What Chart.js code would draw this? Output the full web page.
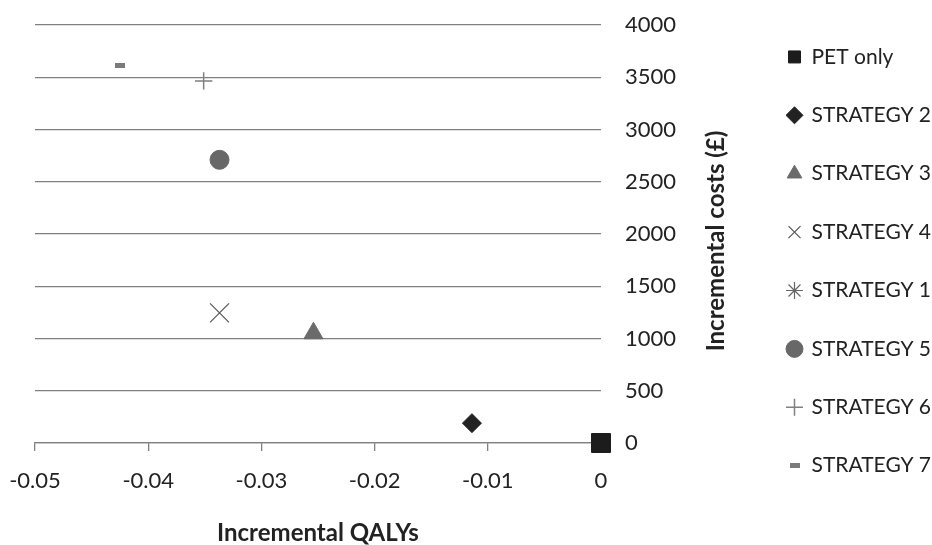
<!DOCTYPE html>
<html>
<head>
<meta charset="utf-8">
<script src="https://cdn.jsdelivr.net/npm/chart.js@4.4.1/dist/chart.umd.min.js"></script>
<style>
  html, body { margin: 0; padding: 0; background: #ffffff; }
  #wrap { width: 932px; height: 545px; }
</style>
</head>
<body>
<div id="wrap"><canvas id="c" width="932" height="545"></canvas></div>
<script>
// ---- data ----
const seriesNames = ['PET only', 'STRATEGY 2', 'STRATEGY 3', 'STRATEGY 4', 'STRATEGY 1', 'STRATEGY 5', 'STRATEGY 6', 'STRATEGY 7'];
const qalys = [[0], [-0.0114], [-0.0254], [-0.0337], [], [-0.0337], [-0.0351], [-0.0425]];
const costs = [[0], [190], [1050], [1245], [], [2710], [3465], [3610]];
const xTicks = [-0.05, -0.04, -0.03, -0.02, -0.01, 0];
const xTickLabels = ['-0.05', '-0.04', '-0.03', '-0.02', '-0.01', '0'];
const yTicks = [0, 500, 1000, 1500, 2000, 2500, 3000, 3500, 4000];
const yTickLabels = ['0', '500', '1000', '1500', '2000', '2500', '3000', '3500', '4000'];
const xTitle = 'Incremental QALYs';
const yTitle = 'Incremental costs (£)';

// small dash marker for STRATEGY 7
const dash = document.createElement('canvas');
dash.width = 10; dash.height = 5;
(function () { const g = dash.getContext('2d'); g.fillStyle = '#7a7a7a'; g.fillRect(0, 0, 10, 5); })();

const styles = [
  { pointStyle: 'rect', radius: 13.4, bg: '#1c1c1c', bc: '#1c1c1c', bw: 1 },
  { pointStyle: 'rectRot', radius: 9.5, bg: '#222222', bc: '#222222', bw: 1 },
  { pointStyle: 'triangle', radius: 11, bg: '#6b6b6b', bc: '#6b6b6b', bw: 1 },
  { pointStyle: 'crossRot', radius: 13.4, bg: '#555555', bc: '#555555', bw: 1.2 },
  { pointStyle: 'star', radius: 9, bg: '#666666', bc: '#666666', bw: 1.2 },
  { pointStyle: 'circle', radius: 9.5, bg: '#686868', bc: '#686868', bw: 1 },
  { pointStyle: 'cross', radius: 8.7, bg: '#808080', bc: '#808080', bw: 1.5 },
  { pointStyle: dash, radius: 6, bg: '#7a7a7a', bc: '#7a7a7a', bw: 1 }
];

const datasets = seriesNames.map((name, i) => ({
  label: name,
  data: qalys[i].map((x, j) => ({ x: x, y: costs[i][j] })),
  pointStyle: styles[i].pointStyle,
  pointRadius: styles[i].radius,
  pointHoverRadius: styles[i].radius,
  backgroundColor: styles[i].bg,
  borderColor: styles[i].bc,
  borderWidth: styles[i].bw,
  clip: false
}));

const FONT = 'Lato';
const GRID = '#808080';
const TEXT = '#222222';

function noScalePadding(scale) {
  scale.paddingTop = 0; scale.paddingBottom = 0;
  scale.paddingLeft = 0; scale.paddingRight = 0;
}

const yTitlePlugin = {
  id: 'yTitlePlugin',
  afterDraw(chart) {
    const ca = chart.chartArea;
    const ctx = chart.ctx;
    ctx.save();
    ctx.font = 'bold 24px ' + FONT;
    ctx.fillStyle = TEXT;
    ctx.textAlign = 'center';
    ctx.textBaseline = 'middle';
    ctx.translate(ca.right + 115, (ca.top + ca.bottom) / 2 + 7);
    ctx.rotate(-Math.PI / 2);
    ctx.fillText(chart.options.scales.y.title.text, 0, 0);
    ctx.restore();
  }
};

new Chart(document.getElementById('c'), {
  type: 'scatter',
  data: { datasets: datasets },
  plugins: [yTitlePlugin],
  options: {
    responsive: false,
    animation: false,
    devicePixelRatio: 1,
    layout: { autoPadding: false, padding: { left: 35, top: 25, right: 0, bottom: 14 } },
    plugins: {
      tooltip: { enabled: false },
      legend: {
        position: 'right',
        align: 'center',
        maxWidth: 148,
        labels: {
          usePointStyle: true,
          boxWidth: 13,
          boxHeight: 12,
          padding: 4,
          color: TEXT,
          font: { family: FONT, size: 21, lineHeight: 2.59 },
          generateLabels(chart) {
            const items = Chart.defaults.plugins.legend.labels.generateLabels(chart);
            items.forEach(it => { it.text = [it.text]; });
            return items;
          }
        }
      }
    },
    scales: {
      x: {
        type: 'linear',
        position: 'bottom',
        min: -0.05,
        max: 0,
        afterBuildTicks(scale) { scale.ticks = xTicks.map(v => ({ value: v })); },
        afterFit(scale) { scale.height = 88; noScalePadding(scale); },
        ticks: {
          color: TEXT,
          padding: 17,
          font: { family: FONT, size: 22 },
          callback: (v, i) => xTickLabels[i]
        },
        grid: { drawOnChartArea: false, drawTicks: true, tickLength: 8, color: GRID, lineWidth: 1.3 },
        border: { display: true, color: GRID, width: 1.3 },
        title: {
          display: true,
          text: xTitle,
          color: TEXT,
          padding: { top: 0, bottom: -6 },
          font: { family: FONT, size: 24, weight: 'bold', lineHeight: 0.3 }
        }
      },
      y: {
        type: 'linear',
        position: 'right',
        min: 0,
        max: 4000,
        afterBuildTicks(scale) { scale.ticks = yTicks.map(v => ({ value: v })); },
        afterFit(scale) { scale.width = 183; noScalePadding(scale); },
        ticks: {
          color: TEXT,
          padding: 24,
          font: { family: FONT, size: 22 },
          callback: (v, i) => yTickLabels[i]
        },
        grid: { drawTicks: false, color: GRID, lineWidth: 1.3 },
        border: { display: false },
        title: { display: false, text: yTitle }
      }
    }
  }
});
</script>
</body>
</html>
